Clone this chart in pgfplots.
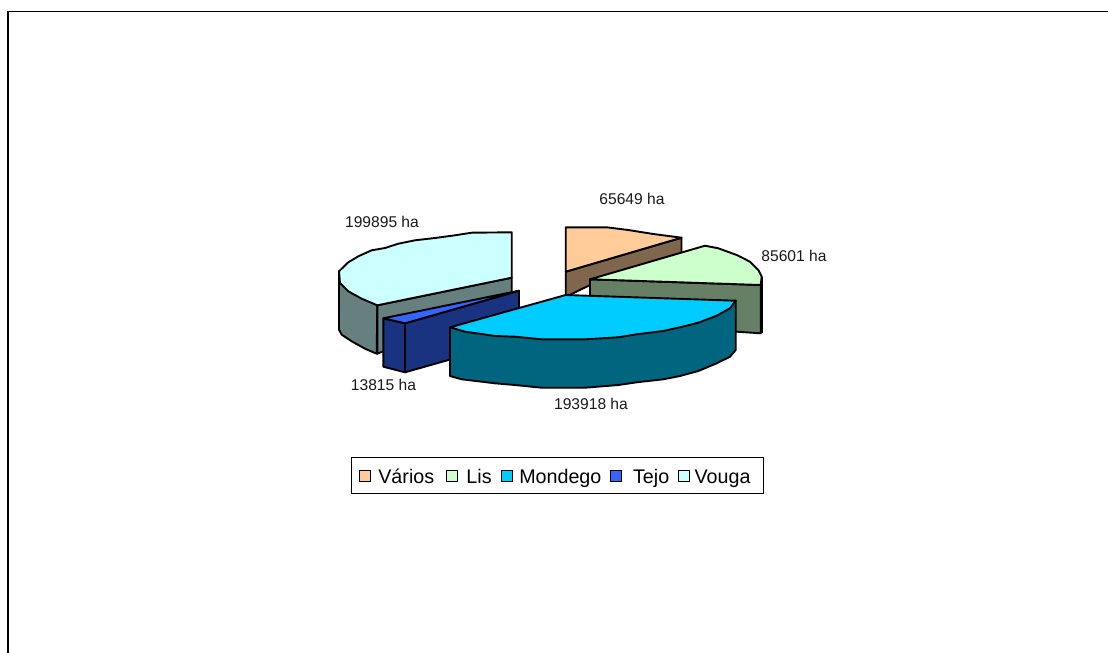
\documentclass[border=0pt]{standalone}
\usepackage{fontspec}
\setmainfont{Liberation Sans}
\usepackage{pgfplots}
\pgfplotsset{compat=1.18}
\definecolor{variosT}{RGB}{255,204,153}
\definecolor{variosS}{RGB}{128,102,77}
\definecolor{lisT}{RGB}{204,255,204}
\definecolor{lisS}{RGB}{102,128,102}
\definecolor{mondT}{RGB}{0,204,255}
\definecolor{mondS}{RGB}{0,102,128}
\definecolor{tejoT}{RGB}{51,102,255}
\definecolor{tejoS}{RGB}{26,51,128}
\definecolor{vougaT}{RGB}{204,255,255}
\definecolor{vougaS}{RGB}{102,128,128}
\pgfplotsset{
  face/.style={fill=#1,draw=black,line width=1.9pt,line join=round,mark=none,forget plot},
  sq/.style={legend image code/.code={\draw[draw=black,line width=1pt,fill=#1] (0pt,-5.5pt) rectangle (11pt,5.5pt);}},
}
\tikzset{lab/.style={font=\fontsize{15.6}{18}\selectfont,text=black!90,inner sep=0pt}}
\newcommand{\lent}[3]{\makebox[#1][l]{\rule[-7pt]{0pt}{23.4pt}\hspace*{#2}#3}}
\begin{document}
\begin{tikzpicture}
\useasboundingbox (0,0) rectangle (1108pt,653pt);
\begin{axis}[
  at={(0,0)},anchor=south west,
  scale only axis, width=1108pt, height=653pt,
  xmin=0, xmax=1108, ymin=0, ymax=653, y dir=reverse,
  axis lines=none, clip=true,
  legend columns=5,
  legend style={at={(axis cs:557.5,475.8)},anchor=center,draw=black,line width=0.8pt,
    inner xsep=7pt,inner ysep=9.1pt,
    font=\fontsize{19.7}{22}\selectfont,
    nodes={inner sep=0pt,anchor=west},column sep=0pt,
    /tikz/every odd column/.append style={column sep=4pt}},
]
% frame
\addplot[black,line width=1.5pt,mark=none,forget plot] coordinates {(8,653)(8,11.5)(1108,11.5)};
% Varios
\addplot[face=variosS] coordinates {(565.7,271.7)(681.5,237.7)(681.5,253.3)(600,280)(565.7,297)} --cycle;
\addplot[face=variosT] coordinates {(565.7,227.3)(606.7,227.3)(628.3,230)(653.3,234)(681.5,237.7)(565.7,271.7)} --cycle;
% Lis
\addplot[face=lisS] coordinates {(590,279.3)(760.7,285)(760.7,333.3)(736.7,331.7)(590,325)} --cycle;
\addplot[face=lisS] coordinates {(761.7,276.7)(761.7,333.3)} ;
\addplot[face=lisT] coordinates {(590,279.3)(705,245.7)(718.3,248.3)(736.7,255)(750,261.7)(758.3,270)(761.7,276.7)(760.7,285)} --cycle;
% Vouga
\addplot[face=vougaS] coordinates {(339,271.3)(339,329.7)(341.7,334.7)(351.7,341.3)(365,348.7)(376.7,353.7)(377.3,305.3)} --cycle;
\addplot[face=vougaS] coordinates {(377.3,305.3)(511.7,277.7)(511.7,300)(377.3,353.7)} --cycle;
\addplot[face=vougaT] coordinates {(511.7,232.3)(471.7,232.7)(455,235.3)(435,238)(415,240.3)(398.3,243.7)(385,248)(371.7,250.3)(358.3,256.3)(348.3,262.3)(339,271.3)(340,283)(348.3,291.3)(361.7,298.7)(377.3,305.3)(511.7,277.7)} --cycle;
% Tejo
\addplot[face=tejoS] coordinates {(405,323.3)(519,290.7)(519,340)(405,372.3)} --cycle;
\addplot[face=tejoS] coordinates {(383.3,318.3)(405,323.3)(405,372.3)(383.3,366.7)} --cycle;
\addplot[face=tejoT] coordinates {(383.3,318.3)(519,290.7)(405,323.3)} --cycle;
% Mondego
\addplot[face=mondS] coordinates {(450,327.3)(450,376)(461.7,379.3)(481.7,381.7)(495,383.3)(515,385)(541.7,387.7)(585,387.7)(618.3,385)(636.7,382.3)(663.3,379.3)(680,376)(698.3,371)(716.7,363.3)(730,356.7)(735.7,350)(735.7,300.7)} --cycle;
\addplot[face=mondT] coordinates {(565.7,295)(735.7,300.7)(730,308.3)(716.7,315.7)(698.3,322.7)(680,327.3)(663.3,331)(636.7,334.3)(618.3,337.3)(585,339.3)(541.7,339.3)(515,336.7)(495,336)(481.7,334)(465,331.7)(450,327.3)} --cycle;
% labels
\node[lab] at (axis cs:632,199) {65649 ha};
\node[lab] at (axis cs:794,256) {85601 ha};
\node[lab] at (axis cs:382,222) {199895 ha};
\node[lab] at (axis cs:383.5,385) {13815 ha};
\node[lab] at (axis cs:591,404) {193918 ha};
% legend
\addlegendimage{sq=variosT}\addlegendentry{\lent{71.4pt}{3.7pt}{Vários}}
\addlegendimage{sq=lisT}\addlegendentry{\lent{38.6pt}{4.4pt}{Lis}}
\addlegendimage{sq=mondT}\addlegendentry{\lent{93.4pt}{2.6pt}{Mondego}}
\addlegendimage{sq=tejoT}\addlegendentry{\lent{52.3pt}{7pt}{Tejo}}
\addlegendimage{sq=vougaT}\addlegendentry{\lent{62pt}{0.3pt}{Vouga}}
\end{axis}
\end{tikzpicture}
\end{document}
